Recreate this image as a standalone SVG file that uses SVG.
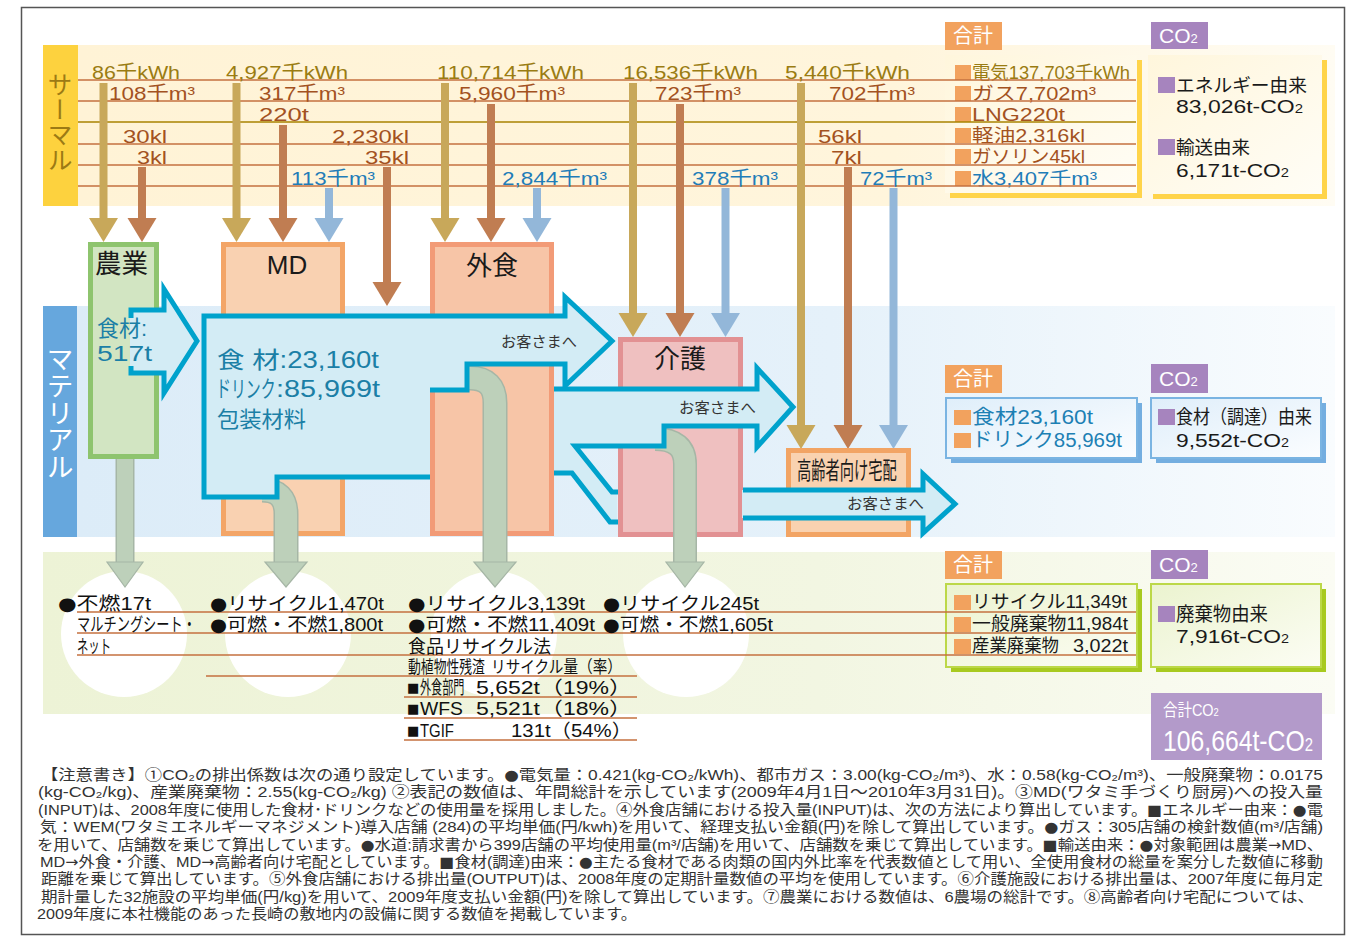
<svg xmlns="http://www.w3.org/2000/svg" width="1360" height="940" viewBox="0 0 1360 940">
<defs>
<style>
text{font-family:"Liberation Sans","Noto Sans CJK JP",sans-serif;}
.dv{font-family:"DejaVu Sans","Noto Sans CJK JP",sans-serif}
.vt{font-family:"Noto Sans CJK JP",sans-serif;writing-mode:vertical-rl}
.ol{fill:#9a7c12}
.br{fill:#a3521f}
.bl{fill:#1f7db8}
.tl{fill:#1b7fa6}
.k{fill:#1a1a1a}
.w{fill:#ffffff}
.ln{stroke:#c4703f;stroke-width:1.3;fill:none}
.lo{stroke:#a88300;stroke-width:1.3;fill:none}
.e{fill:#c8a85a}
.g{fill:#c07d52}
.wa{fill:#93b7d9}
.blu{fill:#d3ecf5;stroke:none}
.bs{fill:none;stroke:#00a2cc;stroke-width:5;stroke-linejoin:miter}
.po{fill:none;stroke:#a6b6a6;stroke-width:25}
.pi{fill:none;stroke:#bdd0ba;stroke-width:22}
.ph{fill:#bdd0ba;stroke:#a6b6a6;stroke-width:1.2}
.osq{fill:#f2a25e}
.psq{fill:#a684be}
.note{font-size:15px;fill:#333333}
.ws{font-size:18.5px;fill:#111111}
</style>
<linearGradient id="gTh" x1="0" y1="0" x2="1" y2="0">
<stop offset="0" stop-color="#fff3d6"/><stop offset="0.65" stop-color="#fff5dc"/><stop offset="1" stop-color="#fffcf3"/>
</linearGradient>
<linearGradient id="gMat" x1="0" y1="0" x2="1" y2="0">
<stop offset="0" stop-color="#dcecf8"/><stop offset="0.6" stop-color="#e5f1fa"/><stop offset="1" stop-color="#f9fcfe"/>
</linearGradient>
<linearGradient id="gWas" x1="0" y1="0" x2="1" y2="0">
<stop offset="0" stop-color="#edf3d6"/><stop offset="0.6" stop-color="#f2f6e2"/><stop offset="1" stop-color="#fbfcf4"/>
</linearGradient>
<linearGradient id="gBoxB" x1="0" y1="0" x2="1" y2="1">
<stop offset="0" stop-color="#dfeefa"/><stop offset="1" stop-color="#fbfdff"/>
</linearGradient>
<linearGradient id="gBoxG" x1="0" y1="0" x2="1" y2="1">
<stop offset="0" stop-color="#ebf3cf"/><stop offset="1" stop-color="#fcfdf4"/>
</linearGradient>
<linearGradient id="gBoxY" x1="0" y1="0" x2="1" y2="1">
<stop offset="0" stop-color="#fff6dc"/><stop offset="1" stop-color="#fffdf6"/>
</linearGradient>
</defs>

<rect x="0" y="0" width="1360" height="940" fill="#ffffff"/>
<rect x="21.5" y="7.5" width="1323" height="927" fill="none" stroke="#555555" stroke-width="1.5"/>

<!-- bands -->
<g id="bands">
<rect x="77" y="45" width="1258" height="161" fill="url(#gTh)"/>
<rect x="43" y="45" width="35" height="161" fill="#fdd23e"/>
<text x="60" y="72" font-size="25" fill="#9c7a14" class="vt">サーマル</text>
<rect x="77" y="306" width="1258" height="231" fill="url(#gMat)"/>
<rect x="43" y="306" width="34" height="231" fill="#66a7dd"/>
<text x="60" y="345" font-size="27" class="vt w">マテリアル</text>
<rect x="43" y="552" width="1292" height="162" fill="url(#gWas)"/>
<circle cx="124" cy="634" r="63" fill="#ffffff"/>
<circle cx="288" cy="634" r="63" fill="#ffffff"/>
<circle cx="494" cy="634" r="63" fill="#ffffff"/>
<circle cx="686" cy="634" r="63" fill="#ffffff"/>
</g>

<!-- thermal totals boxes -->
<g id="thermal-total">
<rect x="945" y="22" width="57" height="28" class="osq"/>
<text x="953" y="43" font-size="20" class="w">合計</text>
<rect x="950" y="60" width="192" height="138" fill="#ffd44a"/>
<rect x="945" y="55" width="192" height="138" fill="url(#gBoxY)"/>
<rect x="955" y="65" width="16" height="15" class="osq"/>
<rect x="955" y="86" width="16" height="15" class="osq"/>
<rect x="955" y="107" width="16" height="15" class="osq"/>
<rect x="955" y="128" width="16" height="15" class="osq"/>
<rect x="955" y="149" width="16" height="15" class="osq"/>
<rect x="955" y="171" width="16" height="15" class="osq"/>
<text x="972" y="79" font-size="18.5" class="ol" textLength="158" lengthAdjust="spacingAndGlyphs">電気137,703千kWh</text>
<text x="972" y="100" font-size="18.5" class="br" textLength="124" lengthAdjust="spacingAndGlyphs">ガス7,702m³</text>
<text x="972" y="121" font-size="18.5" class="br" textLength="93" lengthAdjust="spacingAndGlyphs">LNG220t</text>
<text x="972" y="142" font-size="18.5" class="br" textLength="113" lengthAdjust="spacingAndGlyphs">軽油2,316kl</text>
<text x="972" y="163" font-size="18.5" class="br" textLength="113" lengthAdjust="spacingAndGlyphs">ガソリン45kl</text>
<text x="972" y="185" font-size="18.5" class="bl" textLength="125" lengthAdjust="spacingAndGlyphs">水3,407千m³</text>
</g>
<g id="thermal-co2">
<rect x="1151" y="22" width="57" height="27" class="psq"/>
<text x="1159" y="43" font-size="21" class="w">CO<tspan font-size="13">2</tspan></text>
<rect x="1153" y="60" width="174" height="139" fill="#ffd44a"/>
<rect x="1148" y="55" width="174" height="139" fill="url(#gBoxY)"/>
<rect x="1158" y="77" width="17" height="16" class="psq"/>
<text x="1176" y="92" font-size="18.5" class="k" textLength="131" lengthAdjust="spacingAndGlyphs">エネルギー由来</text>
<text x="1176" y="113" font-size="18.5" class="k" textLength="127" lengthAdjust="spacingAndGlyphs">83,026t-CO<tspan font-size="12">2</tspan></text>
<rect x="1158" y="139" width="17" height="16" class="psq"/>
<text x="1176" y="154" font-size="18.5" class="k" textLength="74" lengthAdjust="spacingAndGlyphs">輸送由来</text>
<text x="1176" y="177" font-size="18.5" class="k" textLength="113" lengthAdjust="spacingAndGlyphs">6,171t-CO<tspan font-size="12">2</tspan></text>
</g>

<!-- thermal lines -->
<g id="thermal-lines">
<line x1="78" y1="80" x2="1136" y2="80" class="ln"/>
<line x1="78" y1="101" x2="1136" y2="101" class="ln"/>
<line x1="78" y1="122" x2="1136" y2="122" class="lo"/>
<line x1="78" y1="144" x2="1136" y2="144" class="ln"/>
<line x1="78" y1="165" x2="1136" y2="165" class="ln"/>
<line x1="78" y1="186" x2="1136" y2="186" class="ln"/>
</g>

<!-- thermal labels -->
<g id="thermal-labels">
<text x="92" y="79" font-size="19" class="ol" textLength="88" lengthAdjust="spacingAndGlyphs">86千kWh</text>
<text x="226" y="79" font-size="19" class="ol" textLength="122" lengthAdjust="spacingAndGlyphs">4,927千kWh</text>
<text x="437" y="79" font-size="19" class="ol" textLength="147" lengthAdjust="spacingAndGlyphs">110,714千kWh</text>
<text x="623" y="79" font-size="19" class="ol" textLength="135" lengthAdjust="spacingAndGlyphs">16,536千kWh</text>
<text x="785" y="79" font-size="19" class="ol" textLength="125" lengthAdjust="spacingAndGlyphs">5,440千kWh</text>
<text x="109" y="100" font-size="19" class="br" textLength="86" lengthAdjust="spacingAndGlyphs">108千m³</text>
<text x="259" y="100" font-size="19" class="br" textLength="86" lengthAdjust="spacingAndGlyphs">317千m³</text>
<text x="459" y="100" font-size="19" class="br" textLength="106" lengthAdjust="spacingAndGlyphs">5,960千m³</text>
<text x="655" y="100" font-size="19" class="br" textLength="86" lengthAdjust="spacingAndGlyphs">723千m³</text>
<text x="829" y="100" font-size="19" class="br" textLength="86" lengthAdjust="spacingAndGlyphs">702千m³</text>
<text x="259" y="121" font-size="19" class="br" textLength="50" lengthAdjust="spacingAndGlyphs">220t</text>
<text x="123" y="143" font-size="19" class="br" textLength="44" lengthAdjust="spacingAndGlyphs">30kl</text>
<text x="332" y="143" font-size="19" class="br" textLength="77" lengthAdjust="spacingAndGlyphs">2,230kl</text>
<text x="818" y="143" font-size="19" class="br" textLength="44" lengthAdjust="spacingAndGlyphs">56kl</text>
<text x="137" y="164" font-size="19" class="br" textLength="30" lengthAdjust="spacingAndGlyphs">3kl</text>
<text x="365" y="164" font-size="19" class="br" textLength="44" lengthAdjust="spacingAndGlyphs">35kl</text>
<text x="831" y="164" font-size="19" class="br" textLength="31" lengthAdjust="spacingAndGlyphs">7kl</text>
<text x="291" y="185" font-size="19" class="bl" textLength="84" lengthAdjust="spacingAndGlyphs">113千m³</text>
<text x="502" y="185" font-size="19" class="bl" textLength="105" lengthAdjust="spacingAndGlyphs">2,844千m³</text>
<text x="692" y="185" font-size="19" class="bl" textLength="86" lengthAdjust="spacingAndGlyphs">378千m³</text>
<text x="860" y="185" font-size="19" class="bl" textLength="72" lengthAdjust="spacingAndGlyphs">72千m³</text>
</g>

<!-- thermal input arrows -->
<g id="connectors-thermal">
<rect x="99.5" y="83" width="8" height="136" class="e"/><polygon points="89,218 118,218 103.5,242" class="e"/>
<rect x="138" y="167" width="8" height="52" class="g"/><polygon points="127.5,218 156.5,218 142,242" class="g"/>
<rect x="232.5" y="83" width="8" height="136" class="e"/><polygon points="222,218 251,218 236.5,242" class="e"/>
<rect x="279" y="125" width="8" height="94" class="g"/><polygon points="268.5,218 297.5,218 283,242" class="g"/>
<rect x="325" y="188" width="8" height="31" class="wa"/><polygon points="314.5,218 343.5,218 329,242" class="wa"/>
<rect x="383" y="167" width="8" height="116" class="g"/><polygon points="372.5,282 401.5,282 387,306" class="g"/>
<rect x="441" y="83" width="8" height="136" class="e"/><polygon points="430.5,218 459.5,218 445,242" class="e"/>
<rect x="487" y="104" width="8" height="115" class="g"/><polygon points="476.5,218 505.5,218 491,242" class="g"/>
<rect x="533" y="188" width="8" height="31" class="wa"/><polygon points="522.5,218 551.5,218 537,242" class="wa"/>
<rect x="629" y="83" width="8" height="231" class="e"/><polygon points="618.5,313 647.5,313 633,337" class="e"/>
<rect x="676" y="104" width="8" height="210" class="g"/><polygon points="665.5,313 694.5,313 680,337" class="g"/>
<rect x="721.5" y="188" width="8" height="126" class="wa"/><polygon points="711,313 740,313 725.5,337" class="wa"/>
<rect x="797" y="83" width="8" height="343" class="e"/><polygon points="786.5,425 815.5,425 801,449" class="e"/>
<rect x="844" y="167" width="8" height="259" class="g"/><polygon points="833.5,425 862.5,425 848,449" class="g"/>
<rect x="889.5" y="188" width="8" height="238" class="wa"/><polygon points="879,425 908,425 893.5,449" class="wa"/>
</g>

<!-- waste pipe under agri box -->
<g id="connector-agri-waste">
<line x1="125" y1="455" x2="125" y2="563" stroke="#a6b6a6" stroke-width="19"/>
<line x1="125" y1="455" x2="125" y2="563" stroke="#bdd0ba" stroke-width="16"/>
<polygon points="107,562 143,562 125,587" class="ph"/>
</g>

<!-- nodes -->
<g id="node-md">
<rect x="223.5" y="244.5" width="119" height="289" fill="#f9d1b1" stroke="#f3a567" stroke-width="5"/>
<text x="287" y="274" font-size="26" class="k" text-anchor="middle">MD</text>
</g>
<g id="node-gaishoku">
<rect x="432.5" y="244.5" width="119" height="289" fill="#f7c5a7" stroke="#f29b77" stroke-width="5"/>
<text x="492" y="275" font-size="26" class="k" text-anchor="middle">外食</text>
</g>
<g id="node-kaigo">
<rect x="620.5" y="339.5" width="120" height="195" fill="#efc0c0" stroke="#e29193" stroke-width="5"/>
<text x="680" y="368" font-size="26" class="k" text-anchor="middle">介護</text>
</g>
<g id="node-koreisha">
<rect x="788.5" y="450.5" width="120" height="84" fill="#f9d2b0" stroke="#f2a464" stroke-width="5"/>
<text transform="translate(797,479) scale(0.595,1)" font-size="24" class="k">高齢者向け宅配</text>
</g>
<g id="node-agri">
<rect x="90.5" y="244.5" width="66" height="212" fill="#d2e5c2" stroke="#8ec46e" stroke-width="5"/>
<text x="95" y="273" font-size="26" class="k" textLength="53" lengthAdjust="spacingAndGlyphs">農業</text>
</g>

<!-- waste pipes -->
<g id="connectors-waste">
<path d="M262,490 Q286,490 286,514 L286,563" class="po"/>
<path d="M262,490 Q286,490 286,514 L286,563" class="pi"/>
<polygon points="265,562 307,562 286,587" class="ph"/>
<path d="M455,378 L470,378 Q495,378 495,403 L495,563" class="po"/>
<path d="M455,378 L470,378 Q495,378 495,403 L495,563" class="pi"/>
<polygon points="474,562 516,562 495,587" class="ph"/>
<path d="M655,439 Q685,439 685,464 L685,563" fill="none" stroke="#a6b6a6" stroke-width="24"/>
<path d="M655,439 Q685,439 685,464 L685,563" fill="none" stroke="#bdd0ba" stroke-width="21"/>
<polygon points="666,562 704,562 685,587" class="ph"/>
</g>

<!-- material flow arrows -->
<g id="connectors-material">
<polygon points="204,316 565,316 565,297 612,341 565,386 565,364 467,364 467,390 430,390 430,477 277,477 277,497 204,497" class="blu"/>
<polyline points="430,390 467,390 467,364 565,364 565,386 612,341 565,297 565,316 204,316 204,497 277,497 277,477 430,477" class="bs"/>
<polygon points="554,389 757,389 757,368 793,407 757,447 757,426 664,426 664,446 575,446 612,492 617,492 617,522 610,522 572,473 554,473" class="blu"/>
<polyline points="554,389 757,389 757,368 793,407 757,447 757,426 664,426 664,446 575,446 612,492 618,492" class="bs"/>
<polyline points="554,473 572,473 610,522 618,522" class="bs"/>
<polygon points="742,490 923,490 923,474 955,504 923,533 923,518 742,518" class="blu"/>
<polyline points="743,490 923,490 923,474 955,504 923,533 923,518 743,518" class="bs"/>
<polygon points="130,310 164,310 164,289 197,341 164,393 164,373 130,373" class="blu"/>
<polyline points="131,318 131,310 164,310 164,289 197,341 164,393 164,373 131,373 131,366" class="bs"/>
</g>

<!-- material labels -->
<g id="material-labels">
<text x="97" y="336" font-size="22" class="tl" textLength="50" lengthAdjust="spacingAndGlyphs">食材:</text>
<text x="97" y="361" font-size="22" class="tl" textLength="55" lengthAdjust="spacingAndGlyphs">517t</text>
<text x="217" y="368" font-size="23" class="tl" textLength="162" lengthAdjust="spacingAndGlyphs">食 材:23,160t</text>
<text transform="translate(216,397) scale(0.65,1)" font-size="23" class="tl">ドリンク</text>
<text x="276" y="397" font-size="24" class="tl" textLength="104" lengthAdjust="spacingAndGlyphs">:85,969t</text>
<text x="217" y="427" font-size="22" class="tl" textLength="89" lengthAdjust="spacingAndGlyphs">包装材料</text>
<text x="501" y="347" font-size="15" fill="#333333" textLength="76" lengthAdjust="spacingAndGlyphs">お客さまへ</text>
<text x="679" y="413" font-size="15" fill="#333333" textLength="77" lengthAdjust="spacingAndGlyphs">お客さまへ</text>
<text x="847" y="509" font-size="15" fill="#333333" textLength="77" lengthAdjust="spacingAndGlyphs">お客さまへ</text>
</g>

<!-- material totals -->
<g id="material-total">
<rect x="945" y="365" width="57" height="28" class="osq"/>
<text x="953" y="386" font-size="20" class="w">合計</text>
<rect x="951" y="403" width="191" height="60" fill="#74aee0"/>
<rect x="946" y="398" width="191" height="60" fill="url(#gBoxB)" stroke="#7ab4e2" stroke-width="2"/>
<rect x="954" y="410" width="17" height="15" class="osq"/>
<rect x="954" y="433" width="17" height="15" class="osq"/>
<text x="972" y="424" font-size="20" fill="#1d80b4" textLength="121" lengthAdjust="spacingAndGlyphs">食材23,160t</text>
<text x="972" y="447" font-size="20" fill="#1d80b4" textLength="150" lengthAdjust="spacingAndGlyphs">ドリンク85,969t</text>
</g>
<g id="material-co2">
<rect x="1151" y="364" width="57" height="29" class="psq"/>
<text x="1159" y="386" font-size="21" class="w">CO<tspan font-size="13">2</tspan></text>
<rect x="1156" y="403" width="170" height="60" fill="#74aee0"/>
<rect x="1151" y="398" width="170" height="60" fill="url(#gBoxB)" stroke="#7ab4e2" stroke-width="2"/>
<rect x="1158" y="409" width="17" height="16" class="psq"/>
<text x="1176" y="424" font-size="19" class="k" textLength="136" lengthAdjust="spacingAndGlyphs">食材（調達）由来</text>
<text x="1176" y="447" font-size="19" class="k" textLength="113" lengthAdjust="spacingAndGlyphs">9,552t-CO<tspan font-size="12">2</tspan></text>
</g>

<!-- waste totals -->
<g id="waste-total">
<rect x="945" y="551" width="57" height="28" class="osq"/>
<text x="953" y="572" font-size="20" class="w">合計</text>
<rect x="951" y="589" width="191" height="83" fill="#a8ca20"/>
<rect x="946" y="584" width="191" height="83" fill="url(#gBoxG)" stroke="#bcd848" stroke-width="2"/>
<rect x="954" y="595" width="17" height="15" class="osq"/>
<rect x="954" y="617" width="17" height="15" class="osq"/>
<rect x="954" y="639" width="17" height="15" class="osq"/>
<text x="972" y="608" font-size="18.5" class="k" textLength="155" lengthAdjust="spacingAndGlyphs">リサイクル11,349t</text>
<text x="972" y="630" font-size="18.5" class="k" textLength="156" lengthAdjust="spacingAndGlyphs">一般廃棄物11,984t</text>
<text x="972" y="652" font-size="18.5" class="k" textLength="87" lengthAdjust="spacingAndGlyphs">産業廃棄物</text>
<text x="1073" y="652" font-size="18.5" class="k" textLength="55" lengthAdjust="spacingAndGlyphs">3,022t</text>
</g>
<g id="waste-co2">
<rect x="1151" y="550" width="57" height="29" class="psq"/>
<text x="1159" y="572" font-size="21" class="w">CO<tspan font-size="13">2</tspan></text>
<rect x="1156" y="589" width="170" height="83" fill="#a8ca20"/>
<rect x="1151" y="584" width="170" height="83" fill="url(#gBoxG)" stroke="#bcd848" stroke-width="2"/>
<rect x="1158" y="606" width="17" height="16" class="psq"/>
<text x="1176" y="621" font-size="19" class="k" textLength="92" lengthAdjust="spacingAndGlyphs">廃棄物由来</text>
<text x="1176" y="643" font-size="19" class="k" textLength="113" lengthAdjust="spacingAndGlyphs">7,916t-CO<tspan font-size="12">2</tspan></text>
</g>
<g id="grand-total">
<rect x="1151" y="693" width="171" height="67" fill="#b39aca"/>
<text transform="translate(1163,716) scale(0.85,1)" font-size="17" class="w">合計CO<tspan font-size="11">2</tspan></text>
<text transform="translate(1163,751) scale(0.825,1)" font-size="30" class="w">106,664t-CO<tspan font-size="18">2</tspan></text>
</g>

<!-- waste lines -->
<g id="waste-lines">
<line x1="77" y1="612" x2="1136" y2="612" class="ln"/>
<line x1="77" y1="633" x2="1136" y2="633" class="ln"/>
<line x1="77" y1="655" x2="1136" y2="655" class="ln"/>
<line x1="206" y1="676" x2="637" y2="676" class="ln"/>
<line x1="404" y1="697" x2="637" y2="697" class="ln"/>
<line x1="404" y1="718" x2="637" y2="718" class="ln"/>
<line x1="404" y1="740" x2="637" y2="740" class="ln"/>
</g>

<!-- waste labels -->
<g id="waste-labels">
<text x="58" y="610" class="ws" textLength="93" lengthAdjust="spacingAndGlyphs"><tspan class="dv" font-size="18">●</tspan>不燃17t</text>
<text x="210" y="610" class="ws" textLength="174" lengthAdjust="spacingAndGlyphs"><tspan class="dv" font-size="18">●</tspan>リサイクル1,470t</text>
<text x="408" y="610" class="ws" textLength="177" lengthAdjust="spacingAndGlyphs"><tspan class="dv" font-size="18">●</tspan>リサイクル3,139t</text>
<text x="603" y="610" class="ws" textLength="156" lengthAdjust="spacingAndGlyphs"><tspan class="dv" font-size="18">●</tspan>リサイクル245t</text>
<text transform="translate(77,631) scale(0.715,1)" class="ws">マルチングシート・</text>
<text x="210" y="631" class="ws" textLength="173" lengthAdjust="spacingAndGlyphs"><tspan class="dv" font-size="18">●</tspan>可燃・不燃1,800t</text>
<text x="408" y="631" class="ws" textLength="187" lengthAdjust="spacingAndGlyphs"><tspan class="dv" font-size="18">●</tspan>可燃・不燃11,409t</text>
<text x="603" y="631" class="ws" textLength="170" lengthAdjust="spacingAndGlyphs"><tspan class="dv" font-size="18">●</tspan>可燃・不燃1,605t</text>
<text x="77" y="653" class="ws" textLength="34" lengthAdjust="spacingAndGlyphs">ネット</text>
<text x="408" y="653" class="ws" textLength="143" lengthAdjust="spacingAndGlyphs">食品リサイクル法</text>
<text transform="translate(408,673) scale(0.755,1)" font-size="17" fill="#111111">動植物性残渣</text>
<text x="491" y="673" font-size="17" fill="#111111" textLength="131" lengthAdjust="spacingAndGlyphs">リサイクル量（率）</text>
<text x="407" y="692" font-size="13" class="dv" fill="#111111">■</text>
<text transform="translate(420,694) scale(0.6,1)" class="ws">外食部門</text>
<text x="476" y="694" class="ws" textLength="156" lengthAdjust="spacingAndGlyphs">5,652t（19%）</text>
<text x="407" y="713" font-size="13" class="dv" fill="#111111">■</text>
<text x="420" y="715" class="ws" textLength="43" lengthAdjust="spacingAndGlyphs">WFS</text>
<text x="476" y="715" class="ws" textLength="156" lengthAdjust="spacingAndGlyphs">5,521t（18%）</text>
<text x="407" y="735" font-size="13" class="dv" fill="#111111">■</text>
<text x="420" y="737" class="ws" textLength="34" lengthAdjust="spacingAndGlyphs">TGIF</text>
<text x="511" y="737" class="ws" textLength="121" lengthAdjust="spacingAndGlyphs">131t（54%）</text>
</g>

<!-- notes -->
<g id="notes">
<text x="41" y="780" class="note" textLength="1282" lengthAdjust="spacingAndGlyphs">【注意書き】①CO₂の排出係数は次の通り設定しています。<tspan class="dv" font-size="14.5">●</tspan>電気量：0.421(kg-CO₂/kWh)、都市ガス：3.00(kg-CO₂/m³)、水：0.58(kg-CO₂/m³)、一般廃棄物：0.0175</text>
<text x="38" y="797.4" class="note" textLength="1285" lengthAdjust="spacingAndGlyphs">(kg-CO₂/kg)、産業廃棄物：2.55(kg-CO₂/kg) ②表記の数値は、年間総計を示しています(2009年4月1日～2010年3月31日)。③MD(ワタミ手づくり厨房)への投入量</text>
<text x="38" y="814.8" class="note" textLength="1285" lengthAdjust="spacingAndGlyphs">(INPUT)は、2008年度に使用した食材･ドリンクなどの使用量を採用しました。④外食店舗における投入量(INPUT)は、次の方法により算出しています。<tspan class="dv" font-size="14.5">■</tspan>エネルギー由来：<tspan class="dv" font-size="14.5">●</tspan>電</text>
<text x="40" y="832.2" class="note" textLength="1283" lengthAdjust="spacingAndGlyphs">気：WEM(ワタミエネルギーマネジメント)導入店舗 (284)の平均単価(円/kwh)を用いて、経理支払い金額(円)を除して算出しています。<tspan class="dv" font-size="14.5">●</tspan>ガス：305店舗の検針数値(m³/店舗)</text>
<text x="37" y="849.6" class="note" textLength="1286" lengthAdjust="spacingAndGlyphs">を用いて、店舗数を乗じて算出しています。<tspan class="dv" font-size="14.5">●</tspan>水道:請求書から399店舗の平均使用量(m³/店舗)を用いて、店舗数を乗じて算出しています。<tspan class="dv" font-size="14.5">■</tspan>輸送由来：<tspan class="dv" font-size="14.5">●</tspan>対象範囲は農業<tspan class="dv" font-size="14.5">→</tspan>MD、</text>
<text x="40" y="867" class="note" textLength="1283" lengthAdjust="spacingAndGlyphs">MD<tspan class="dv" font-size="14.5">→</tspan>外食・介護、MD<tspan class="dv" font-size="14.5">→</tspan>高齢者向け宅配としています。<tspan class="dv" font-size="14.5">■</tspan>食材(調達)由来：<tspan class="dv" font-size="14.5">●</tspan>主たる食材である肉類の国内外比率を代表数値として用い、全使用食材の総量を案分した数値に移動</text>
<text x="41" y="884.4" class="note" textLength="1282" lengthAdjust="spacingAndGlyphs">距離を乗じて算出しています。⑤外食店舗における排出量(OUTPUT)は、2008年度の定期計量数値の平均を使用しています。⑥介護施設における排出量は、2007年度に毎月定</text>
<text x="41" y="901.8" class="note" textLength="1273" lengthAdjust="spacingAndGlyphs">期計量した32施設の平均単価(円/kg)を用いて、2009年度支払い金額(円)を除して算出しています。⑦農業における数値は、6農場の総計です。⑧高齢者向け宅配については、</text>
<text x="37" y="919.2" class="note" textLength="600" lengthAdjust="spacingAndGlyphs">2009年度に本社機能のあった長崎の敷地内の設備に関する数値を掲載しています。</text>
</g>
</svg>
